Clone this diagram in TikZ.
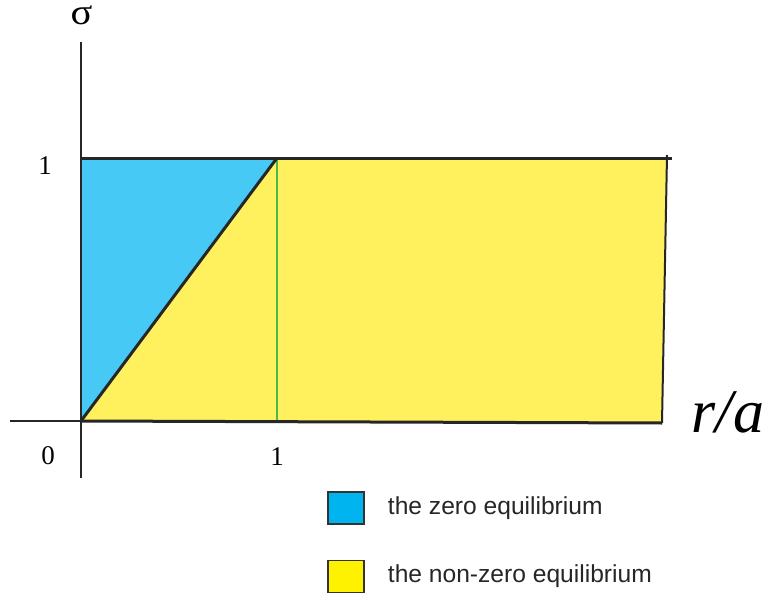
\documentclass[tikz,border=0pt]{standalone}
\usepackage{fontspec}
\setmainfont{Liberation Serif}
\setsansfont{Liberation Sans}
\usepackage{tikz}
\usetikzlibrary{positioning}
\definecolor{zeroblue}{HTML}{46C9F5}
\definecolor{nonzeroyellow}{HTML}{FFF15E}
\definecolor{keyblue}{HTML}{00B5EF}
\definecolor{keyyellow}{HTML}{FFF200}
\definecolor{splitgreen}{HTML}{4CB848}

\begin{document}
\begin{tikzpicture}[x=1pt, y=-1pt, every node/.style={font=\fontsize{27}{30}\selectfont},
  axis/.style={line width=2pt, black!85},
  edge/.style={line width=3pt, black!85},
  keybox/.style={draw, black!80, line width=1.5pt, minimum width=36pt, minimum height=32pt, inner sep=0pt},
  keytext/.style={font=\sffamily\fontsize{24.6}{28}\selectfont, inner sep=0pt, text=black!85}]
  \useasboundingbox (0,0) rectangle (768,599);
  % corners of the regions
  \coordinate (o) at (81,421);
  \coordinate (c) at (277,158);
  \coordinate (tl) at (81,158);
  \coordinate (tr) at (667,158);
  \coordinate (br) at (662,423);
  \coordinate (cb) at (277,423);
  % axis ends
  \coordinate (ytop) at (81,42);
  \coordinate (ybot) at (81,478);
  \coordinate (xleft) at (10,421);
  \coordinate (topend) at (672,158);
  \coordinate (tick) at (667,155);
  \fill[zeroblue] (tl) -- (c) -- (o) -- cycle;
  \fill[nonzeroyellow] (o) -- (c) -- (tr) -- (br) -- cycle;
  \draw[splitgreen, line width=1.5pt] (c) -- (cb);
  \draw[axis] (ytop) -- (ybot);
  \draw[axis] (xleft) -- (o);
  \draw[edge] (o) -- (br);
  \draw[axis] (tick) -- (br);
  \draw[edge] (tl) -- (topend);
  \draw[edge] (o) -- (c);
  % labels
  \node[font=\fontsize{27}{30}\selectfont, inner sep=0pt, xscale=1.5, yscale=1.35] (sigma) at (81.5,15) {σ};
  \node (one y) at (45,166) {1};
  \node (zero) at (48,456) {0};
  \node (one x) at (277,457) {1};
  \node[font=\fontsize{62}{64}\selectfont\itshape] (ratio) at (728,412) {r/a};
  % legend
  \node[keybox, fill=keyblue] (zerokey) at (346,508) {};
  \node[keytext, right=23pt of zerokey] (zerolabel) {the zero equilibrium};
  \node[keybox, fill=keyyellow] (nonzerokey) at (346,576.5) {};
  \node[keytext, right=23pt of nonzerokey] (nonzerolabel) {the non-zero equilibrium};
\end{tikzpicture}
\end{document}
